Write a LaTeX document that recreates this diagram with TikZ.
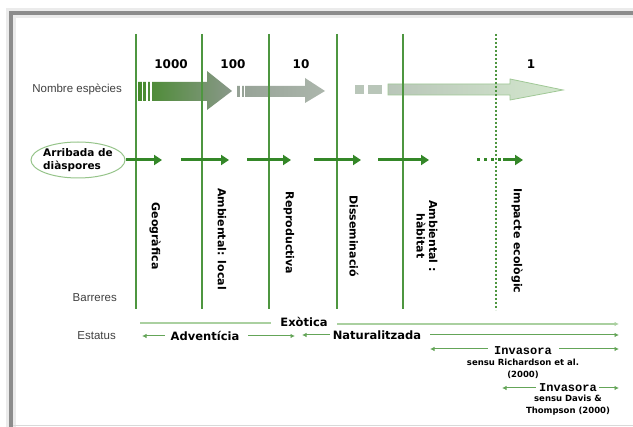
\documentclass[tikz,border=0pt]{standalone}
\usepackage{fontspec}
\setmainfont{DejaVu Sans}
\newfontfamily\labfont{Liberation Sans}
\newfontfamily\invfont{Liberation Mono}
\usetikzlibrary{arrows.meta}
\definecolor{barrgreen}{RGB}{78,150,64}
\definecolor{pasgreen}{RGB}{52,135,40}
\definecolor{elgreen}{RGB}{150,196,138}
\definecolor{linegreen}{RGB}{100,165,88}
\definecolor{exgreen}{RGB}{170,208,160}
\definecolor{flaa}{RGB}{70,138,44}
\definecolor{flab}{RGB}{138,152,138}
\definecolor{flba}{RGB}{150,162,150}
\definecolor{flbb}{RGB}{172,182,172}
\definecolor{flca}{RGB}{185,198,185}
\definecolor{flcb}{RGB}{212,232,206}
\definecolor{flce}{RGB}{160,200,150}
\tikzset{
	,etiq/.style   = {font=\labfont\fontsize{11.5}{13}\selectfont, text=black!75, inner sep=0pt}
	,num/.style    = {font=\bfseries\fontsize{12}{13}\selectfont, inner sep=0pt}
	,barnom/.style = {rotate=-90, font=\bfseries\fontsize{11}{12.5}\selectfont, align=center, inner sep=0pt}
	,estat/.style  = {font=\bfseries\fontsize{11.5}{13}\selectfont, inner sep=0pt}
	,invas/.style  = {font=\invfont\bfseries\fontsize{12}{13}\selectfont, inner sep=0pt}
	,sensu/.style  = {font=\bfseries\fontsize{8.5}{11.5}\selectfont, align=center, inner sep=0pt}
	,arribnode/.style = {ellipse, draw=elgreen, line width=1pt, minimum width=94pt, minimum height=36pt,
		inner xsep=-6pt, inner ysep=-3pt, align=left, font=\bfseries\fontsize{10.5}{13}\selectfont}
	,barrera/.style = {line width=2.4pt, barrgreen}
	,bardot/.style  = {barrera, dash pattern=on 2pt off 2pt}
	,pas/.style     = {-{Triangle[length=8pt,width=10pt]}, line width=3pt, pasgreen}
	,pasdot/.style  = {line width=3pt, pasgreen, dash pattern=on 3pt off 4pt}
	,lin/.style     = {line width=1pt, linegreen}
	,linr/.style    = {lin, -{Latex[length=4.5pt,width=4.5pt]}}
	,linl/.style    = {lin, {Latex[length=4.5pt,width=4.5pt]}-}
	,exlin/.style   = {line width=1.6pt, exgreen}
}
\usetikzlibrary{shapes.geometric}
\begin{document}
\begin{tikzpicture}[x=1pt, y=-1pt]
	\useasboundingbox (0,0) rectangle (633,427);
	\fill[white] (0,0) rectangle (633,427);
	% marc
	\draw[line width=10pt, black!8] (11,432) -- (11,13) -- (645,13);
	\draw[line width=4.5pt, black!45] (11,432) -- (11,13) -- (645,13);
	\draw[line width=1pt, black!15] (13,425.5) -- (645,425.5);

	% fletxes de nombre d'especies
	\shade[left color=flaa, right color=flab] (138,82) -- (207,82) -- (207,71) -- (232,91)
		-- (207,110) -- (207,101) -- (138,101) -- cycle;
	\foreach \s in {141.8,146.3,150.3}
		\fill[white] (\s,81) rectangle ++(1.3,21);
	\shade[left color=flba, right color=flbb] (237,86) -- (305,86) -- (305,78) -- (325,91)
		-- (305,103) -- (305,97) -- (237,97) -- cycle;
	\foreach \s in {240.3,243.8}
		\fill[white] (\s,85) rectangle ++(1.2,13);
	\fill[flca] (355,85) rectangle (364,94);
	\fill[flca] (368,85) rectangle (382,94);
	\shade[left color=flca, right color=flcb, draw=flce, line width=0.8pt] (388,84) -- (510,84)
		-- (510,79) -- (563,90) -- (510,100) -- (510,95) -- (388,95) -- cycle;

	% barreres
	\foreach \i/\x in {1/136, 2/202, 3/269, 4/337, 5/403} {
		\coordinate (bt\i) at (\x,34);
		\coordinate (bb\i) at (\x,309);
		\draw[barrera] (bt\i) -- (bb\i);
	}
	\coordinate (bt6) at (496,34);
	\coordinate (bb6) at (496,310);
	\draw[bardot] (bt6) -- (bb6);

	\node[num] at (171,64) (n1000) {1000};
	\node[num] at (233,64) (n100)  {100};
	\node[num] at (301,64) (n10)   {10};
	\node[num] at (531,64) (n1)    {1};
	\node[etiq, anchor=east] at (122,89) (nombre) {Nombre espècies};

	% arribada
	\node[arribnode] at (78,160) (arrib) {Arribada de\\diàspores};
	\coordinate (pa0) at (162,160);
	\draw[pas] (arrib.east) -- (pa0);
	\foreach \i/\a/\b in {1/181/229, 2/247/291, 3/314/361, 4/378/429} {
		\coordinate (pi\i) at (\a,160);
		\coordinate (pf\i) at (\b,160);
		\draw[pas] (pi\i) -- (pf\i);
	}
	\coordinate (pd0) at (477,160);
	\coordinate (pd1) at (503,160);
	\coordinate (pd2) at (523,160);
	\draw[pasdot] (pd0) -- (pd1);
	\draw[pas] (pd1) -- (pd2);

	\node[barnom] at (155,236) (geo)  {Geogràfica};
	\node[barnom] at (222,239) (amb)  {Ambiental: local};
	\node[barnom] at (289,233) (rep)  {Reproductiva};
	\node[barnom] at (354,236) (dis)  {Disseminació};
	\node[barnom] at (427,236) (hab)  {Ambiental :\\hàbitat};
	\node[barnom] at (517,241) (imp)  {Impacte ecològic};

	\node[etiq, anchor=east] at (117,298) (barr) {Barreres};
	\node[etiq, anchor=east] at (116,336) (estatus) {Estatus};

	% estatus
	\node[estat] at (304,322) (exot) {Exòtica};
	\coordinate (exl0) at (140,323);
	\coordinate (exl1) at (271,323);
	\coordinate (exr0) at (337,324);
	\coordinate (exr1) at (619,324);
	\draw[exlin] (exl0) -- (exl1);
	\draw[exlin, -{Latex[length=4.5pt,width=4.5pt]}] (exr0) -- (exr1);

	\node[estat] at (205,336) (adv) {Adventícia};
	\coordinate (advl0) at (142,336);
	\coordinate (advl1) at (165,336);
	\coordinate (advr0) at (248,336);
	\coordinate (advr1) at (295,336);
	\draw[linl] (advl0) -- (advl1);
	\draw[linr] (advr0) -- (advr1);

	\node[estat] at (377,335) (nat) {Naturalitzada};
	\coordinate (natl0) at (302,335);
	\coordinate (natl1) at (330,335);
	\coordinate (natr0) at (430,335);
	\coordinate (natr1) at (619,335);
	\draw[linl] (natl0) -- (natl1);
	\draw[linr] (natr0) -- (natr1);

	\node[invas] at (523,351) (inv1) {Invasora};
	\node[sensu] at (523,369) (sen1) {sensu Richardson et al.\\(2000)};
	\coordinate (ial0) at (430,349);
	\coordinate (ial1) at (488,349);
	\coordinate (iar0) at (559,349);
	\coordinate (iar1) at (619,349);
	\draw[linl] (ial0) -- (ial1);
	\draw[linr] (iar0) -- (iar1);

	\node[invas] at (568,388) (inv2) {Invasora};
	\node[sensu] at (568,405) (sen2) {sensu Davis \&\\Thompson (2000)};
	\coordinate (ibl0) at (502,388);
	\coordinate (ibl1) at (536,388);
	\coordinate (ibr0) at (599,388);
	\coordinate (ibr1) at (619,388);
	\draw[linl] (ibl0) -- (ibl1);
	\draw[linr] (ibr0) -- (ibr1);
\end{tikzpicture}
\end{document}
